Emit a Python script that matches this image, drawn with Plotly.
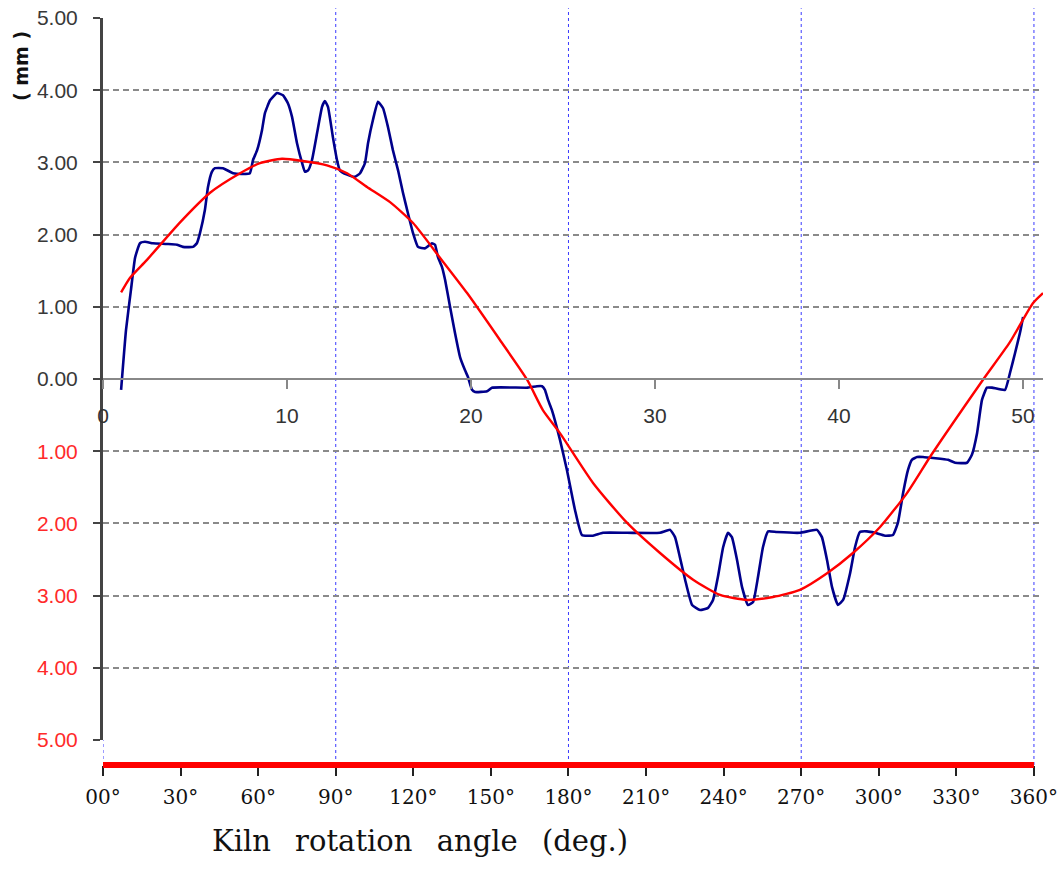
import plotly.graph_objects as go

# ---- data (angle in degrees, deviation in mm) ----
blue_deg = [7.0, 8.9, 10.8, 12.4, 14.3, 16.2, 19.3, 24.7, 28.6, 30.9, 34.8, 36.3, 37.5, 39.4, 40.6, 42.1,
            43.3, 46.4, 50.3, 54.1, 56.8, 58.0, 59.6, 61.5, 62.6, 64.6, 67.3, 69.6, 71.5, 73.1, 75.0, 77.0,
            78.1, 79.3, 80.8, 82.8, 84.7, 85.8, 87.0, 88.9, 90.5, 91.6, 94.4, 97.4, 99.4, 101.3, 102.5,
            104.4, 106.3, 108.3, 110.2, 112.1, 114.1, 116.0, 117.9, 119.9, 121.8, 124.5, 127.2, 128.4,
            129.5, 131.1, 132.3, 134.2, 136.1, 138.1, 140.0, 141.1, 142.7, 143.9, 148.5, 150.4, 164.3,
            167.8, 169.8, 170.9, 172.1, 173.6, 176.7, 179.4, 182.5, 185.2, 189.5, 193.3, 202.6, 215.4,
            219.3, 221.2, 223.1, 225.1, 227.8, 230.9, 234.0, 235.9, 237.8, 239.8, 241.7, 243.2, 245.2,
            247.1, 249.4, 251.4, 253.3, 255.2, 257.2, 260.6, 269.5, 276.1, 278.0, 280.0, 281.9, 284.2,
            286.2, 288.9, 290.8, 292.7, 295.4, 298.5, 302.4, 305.5, 307.4, 309.4, 311.3, 312.8, 314.8,
            317.1, 326.8, 329.5, 334.1, 336.0, 338.0, 339.9, 341.8, 343.8, 348.8, 350.7, 352.7, 354.6,
            355.8]
blue_mm = [-0.15, 0.68, 1.23, 1.68, 1.88, 1.90, 1.88, 1.87, 1.86, 1.83, 1.83, 1.88, 2.02, 2.34, 2.66, 2.87,
           2.92, 2.92, 2.85, 2.84, 2.85, 3.03, 3.17, 3.45, 3.68, 3.86, 3.96, 3.93, 3.82, 3.63, 3.27, 2.99,
           2.87, 2.89, 3.03, 3.41, 3.77, 3.85, 3.77, 3.35, 3.03, 2.89, 2.83, 2.80, 2.85, 2.99, 3.27,
           3.59, 3.84, 3.75, 3.49, 3.17, 2.89, 2.58, 2.30, 2.02, 1.83, 1.81, 1.88, 1.86,
           1.69, 1.55, 1.37, 1.00, 0.64, 0.30, 0.12, 0.03, -0.15, -0.18, -0.17, -0.12, -0.12,
           -0.10, -0.10, -0.15, -0.29, -0.43, -0.84, -1.26, -1.81, -2.16, -2.17, -2.13, -2.13, -2.13,
           -2.09, -2.19, -2.47, -2.78, -3.13, -3.20, -3.17, -3.06, -2.74, -2.33, -2.13, -2.19, -2.51,
           -2.88, -3.13, -3.09, -2.74, -2.33, -2.11, -2.12, -2.13, -2.09, -2.19, -2.51, -2.88, -3.13,
           -3.06, -2.69, -2.33, -2.12, -2.11, -2.13, -2.17, -2.16, -1.99, -1.58, -1.26, -1.12, -1.08,
           -1.08, -1.12, -1.16, -1.16, -1.05, -0.75, -0.29, -0.12, -0.12, -0.15, 0.08, 0.36, 0.64,
           0.86]

red_deg = [7.0, 10.4, 17.0, 29.8, 41.4, 53.0, 60.7, 69.2, 77.3, 86.6, 94.4, 102.1, 111.0, 119.9, 130.3,
           140.8, 153.5, 164.0, 170.1, 176.7, 189.5, 202.6, 215.4, 228.2, 238.6, 249.0, 259.1, 269.5,
           280.0, 290.0, 300.5, 310.9, 319.8, 328.7, 340.3, 350.7, 359.6, 363.5]
red_mm = [1.20, 1.40, 1.65, 2.17, 2.58, 2.85, 2.99, 3.05, 3.02, 2.96, 2.85, 2.66, 2.45, 2.16, 1.68,
          1.19, 0.54, -0.01, -0.43, -0.75, -1.44, -1.99, -2.41, -2.78, -2.99, -3.06, -3.02, -2.92,
          -2.69, -2.41, -2.05, -1.58, -1.08, -0.61, -0.01, 0.51, 1.05, 1.19]

angle_ticks = [0, 30, 60, 90, 120, 150, 180, 210, 240, 270, 300, 330, 360]
angle_labels = ["00°", "30°", "60°", "90°", "120°", "150°", "180°", "210°", "240°", "270°", "300°", "330°", "360°"]
sample_ticks = [0, 10, 20, 30, 40, 50]
mm_ticks = [5, 4, 3, 2, 1, 0, -1, -2, -3, -4, -5]
mm_labels = ["5.00", "4.00", "3.00", "2.00", "1.00", "0.00",
             "<span style='color:#ff2a2a'>1.00</span>", "<span style='color:#ff2a2a'>2.00</span>",
             "<span style='color:#ff2a2a'>3.00</span>", "<span style='color:#ff2a2a'>4.00</span>",
             "<span style='color:#ff2a2a'>5.00</span>"]
quarter_lines = [0, 90, 180, 270, 360]

X_MAX = 363.5
DEG_PER_SAMPLE = 7.115
Y_DOMAIN_BOTTOM = 25 / 747

fig = go.Figure()
fig.add_trace(go.Scatter(x=[], y=[], xaxis="x2", yaxis="y", showlegend=False, hoverinfo="skip"))
fig.add_trace(go.Scatter(x=blue_deg, y=blue_mm, mode="lines",
                         line=dict(color="#00008b", width=2.6, shape="spline", smoothing=0.4),
                         showlegend=False))
fig.add_trace(go.Scatter(x=red_deg, y=red_mm, mode="lines",
                         line=dict(color="#ff0000", width=2.4, shape="spline", smoothing=0.6),
                         showlegend=False))

shapes = []
for q in quarter_lines:
    top = Y_DOMAIN_BOTTOM if q == 0 else 1.013
    shapes.append(dict(type="line", xref="x", yref="paper", x0=q, x1=q, y0=0, y1=top,
                       line=dict(color="#3a3aff", width=1, dash="dot"), layer="below"))
shapes.append(dict(type="line", xref="x", yref="paper", x0=0, x1=360, y0=0, y1=0,
                   line=dict(color="#ff0000", width=6), layer="above"))

sep = "\u00a0\u2009 "

fig.update_layout(
    width=1060, height=880,
    margin=dict(l=103, r=17, t=18, b=115, autoexpand=False),
    plot_bgcolor="white", paper_bgcolor="white",
    showlegend=False,
    shapes=shapes,
    xaxis=dict(range=[0, X_MAX], tickvals=angle_ticks, ticktext=angle_labels, showgrid=False, zeroline=False,
               showline=False, ticks="outside", ticklen=10, tickwidth=1.5, tickcolor="#222",
               anchor="free", position=0, ticklabelstandoff=4, automargin=False,
               tickfont=dict(family="DejaVu Serif", size=20, color="#111")),
    xaxis2=dict(range=[0, X_MAX / DEG_PER_SAMPLE], overlaying="x", anchor="free", position=(765 - 379) / 747,
                tickvals=sample_ticks, showgrid=False, zeroline=False, showline=True, linecolor="#888", linewidth=2,
                ticks="outside", ticklen=9, tickwidth=1.5, tickcolor="#888", side="bottom", ticklabelstandoff=9,
                automargin=False,
                tickfont=dict(family="Liberation Sans", size=21, color="#333")),
    yaxis=dict(range=[-5, 5], domain=[Y_DOMAIN_BOTTOM, 1], tickvals=mm_ticks, ticktext=mm_labels,
               showgrid=True, gridcolor="#8a8a8a", gridwidth=1.6, griddash="6px,4px", zeroline=False,
               showline=True, linecolor="#444", linewidth=3, ticks="outside", ticklen=7, tickwidth=2,
               tickcolor="#444", ticklabelstandoff=11, automargin=False,
               tickfont=dict(family="Liberation Sans", size=21, color="#383838")),
    annotations=[
        dict(text="<b>( mm )</b>", xref="paper", yref="paper", x=(21 - 103) / 940, y=(765 - 66) / 747,
             xanchor="center", yanchor="middle",
             showarrow=False, textangle=-90, font=dict(family="DejaVu Sans", size=19, color="#111")),
        dict(text="Kiln" + sep + "rotation" + sep + "angle" + sep + "(deg.)", xref="paper", yref="paper",
             x=(420 - 103) / 940, y=(765 - 860) / 747, showarrow=False,
             font=dict(family="DejaVu Serif", size=29, color="#111")),
    ],
)

fig.write_html("out.html", config={"displayModeBar": False},
               post_script="document.body.style.margin='0';")
